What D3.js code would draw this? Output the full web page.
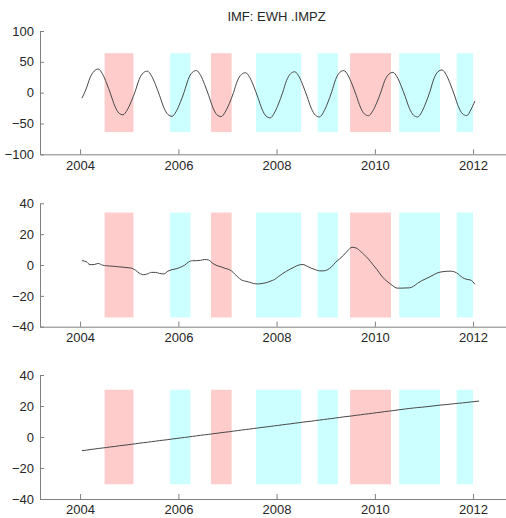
<!DOCTYPE html>
<html>
<head>
<meta charset="utf-8">
<script src="https://cdn.jsdelivr.net/npm/d3@7"></script>
<style>
  body { margin: 0; background: #fff; }
  svg { display: block; font-family: "Liberation Sans", Arial, sans-serif; }
  .axis path, .axis line { stroke: #808080; }
  .axis text { fill: #262626; font-size: 13px; }
</style>
</head>
<body>
<div id="chart"></div>
<script>
const W = 506, H = 518;

// shaded periods (first month, month after end) and their colour type
const bandStart = ["2004-07", "2005-11", "2006-09", "2007-08", "2008-11", "2009-07", "2010-07", "2011-09"];
const bandEnd   = ["2005-02", "2006-04", "2007-02", "2008-07", "2009-04", "2010-05", "2011-05", "2012-01"];
const bandType  = ["red", "cyan", "red", "cyan", "cyan", "red", "cyan", "cyan"];

// monthly series, starting Jan 2004 (mid-month)
const imf = [
  -9, 6, 24, 35, 38.3, 30.7, 16.0, -2.3, -21.6, -33.0, -35.9, -28.5,
  -14.6, 2.8, 21.3, 32.1, 34.9, 27.3, 12.8, -5.2, -24.3, -35.5, -38.4, -30.7,
  -16.0, 2.3, 21.6, 33.0, 35.9, 28.1, 13.4, -5.0, -24.5, -35.9, -38.9, -31.5,
  -17.4, 0.1, 18.7, 29.6, 32.4, 24.8, 10.3, -7.7, -26.8, -38.0, -40.9, -33.1,
  -18.4, 0.0, 19.5, 30.9, 33.9, 26.3, 11.8, -6.2, -25.3, -36.5, -39.4, -31.6,
  -16.7, 1.8, 21.4, 32.9, 35.8, 28.3, 13.8, -4.2, -23.3, -34.5, -37.4, -30.1,
  -16.3, 1.1, 19.4, 30.1, 32.9, 25.4, 11.1, -6.7, -25.5, -36.5, -39.4, -31.5,
  -16.4, 2.3, 22.2, 33.9, 36.8, 29.2, 14.5, -3.8, -23.1, -34.4, -37.3, -28,
  -13.5
];
const imf2 = [
  2.8, 2.2, 0.2, 0.3, 1.0, -0.1, -0.5, -0.7, -0.9, -1.2, -1.4, -1.7,
  -2.0, -3.3, -5.2, -6.3, -5.8, -4.8, -4.8, -5.5, -5.8, -4.0, -3.0, -2.5,
  -1.5, -0.2, 1.8, 2.8, 2.8, 3.0, 3.6, 3.2, 1.0, -0.4, -1.2, -2.2,
  -3.0, -5.0, -7.5, -9.7, -10.5, -11.2, -12.0, -12.3, -12.0, -11.5, -10.5, -9.5,
  -7.5, -5.6, -4.0, -2.5, -1.2, 0.0, 0.3, -0.8, -2.1, -3.0, -3.8, -3.8,
  -3.0, -1.0, 1.8, 4.0, 6.5, 9.5, 11.5, 11.0, 9.0, 6.5, 3.8, 0.5,
  -2.8, -6.5, -9.3, -11.5, -13.5, -15.0, -15.0, -14.9, -14.8, -13.8, -11.8, -10.2,
  -8.9, -7.6, -6.3, -5.0, -4.4, -4.1, -4.0, -4.4, -6.0, -8.2, -9.3, -9.8,
  -12.5
];
const trend = [
  -8.8, -8.5, -8.1, -7.8, -7.4, -7.1, -6.8, -6.4, -6.1, -5.7, -5.4, -5.1,
  -4.7, -4.4, -4.0, -3.7, -3.4, -3.0, -2.7, -2.3, -2.0, -1.7, -1.3, -1.0,
  -0.6, -0.3, 0.0, 0.4, 0.7, 1.1, 1.4, 1.7, 2.1, 2.4, 2.8, 3.1,
  3.4, 3.8, 4.1, 4.5, 4.8, 5.1, 5.5, 5.8, 6.2, 6.5, 6.8, 7.2,
  7.5, 7.9, 8.2, 8.5, 8.9, 9.2, 9.6, 9.9, 10.2, 10.6, 10.9, 11.3,
  11.6, 11.9, 12.3, 12.6, 13.0, 13.3, 13.6, 14.0, 14.3, 14.7, 15.0, 15.3,
  15.7, 16.0, 16.4, 16.7, 17.0, 17.4, 17.7, 18.1, 18.4, 18.7, 19.0, 19.2,
  19.5, 19.8, 20.1, 20.4, 20.7, 20.9, 21.2, 21.5, 21.8, 22.0, 22.3, 22.6,
  22.9, 23.2
];

const yDomains = [[-100, 100], [-40, 40], [-40, 40]];
const yTicks = [[-100, -50, 0, 50, 100], [-40, -20, 0, 20, 40], [-40, -20, 0, 20, 40]];
const bandHalf = [64, 34, 30.5];
const xTicks = [2004, 2006, 2008, 2010, 2012];
const series = [imf, imf2, trend];

const parseMonth = d3.timeParse("%Y-%m");
const months = d3.timeMonth.range(new Date(2004, 0, 1), new Date(2012, 2, 1))
  .map(d => d3.timeDay.offset(d, 14));

const svg = d3.select("#chart").append("svg")
  .attr("width", W)
  .attr("height", H);

// x scale (axis runs a bit past the right edge of the picture)
const x = d3.scaleTime()
  .domain([new Date(2003, 2, 9), new Date(2012, 9, 24)])
  .range([40, 513]);

const panels = [
  { top: 31, bottom: 154.3 },
  { top: 203.3, bottom: 326.7 },
  { top: 375, bottom: 499 }
];

svg.append("text")
  .attr("x", 276.5)
  .attr("y", 21)
  .attr("text-anchor", "middle")
  .style("font-size", "13px")
  .style("fill", "#262626")
  .text("IMF: EWH .IMPZ");

panels.forEach(function(p, i) {
  const y = d3.scaleLinear().domain(yDomains[i]).range([p.bottom, p.top]);
  const g = svg.append("g");

  // shaded periods
  g.selectAll("rect")
    .data(bandStart.map((s, j) => ({ s: parseMonth(s), e: parseMonth(bandEnd[j]), t: bandType[j] })))
    .enter().append("rect")
    .attr("x", d => x(d.s))
    .attr("width", d => x(d.e) - x(d.s))
    .attr("y", y(bandHalf[i]))
    .attr("height", y(-bandHalf[i]) - y(bandHalf[i]))
    .attr("fill", d => d.t === "red" ? "#ffcccc" : "#ccffff");

  const line = d3.line()
    .x((d, k) => x(months[k]))
    .y(d => y(d))
    .curve(d3.curveMonotoneX);

  g.append("path")
    .datum(series[i])
    .attr("d", line)
    .attr("fill", "none")
    .attr("stroke", "#474747")
    .attr("stroke-width", 1);

  g.append("g")
    .attr("class", "axis")
    .attr("transform", `translate(0,${p.bottom})`)
    .call(d3.axisBottom(x)
      .tickValues(xTicks.map(yr => new Date(yr, 0, 1)))
      .tickFormat(d3.timeFormat("%Y"))
      .tickSizeInner(-5).tickSizeOuter(0).tickPadding(6));

  g.append("g")
    .attr("class", "axis")
    .attr("transform", "translate(40,0)")
    .call(d3.axisLeft(y)
      .tickValues(yTicks[i])
      .tickSizeInner(-4).tickSizeOuter(0).tickPadding(6));
});

svg.selectAll(".axis text").attr("font-family", null).attr("font-size", null);
</script>
</body>
</html>
